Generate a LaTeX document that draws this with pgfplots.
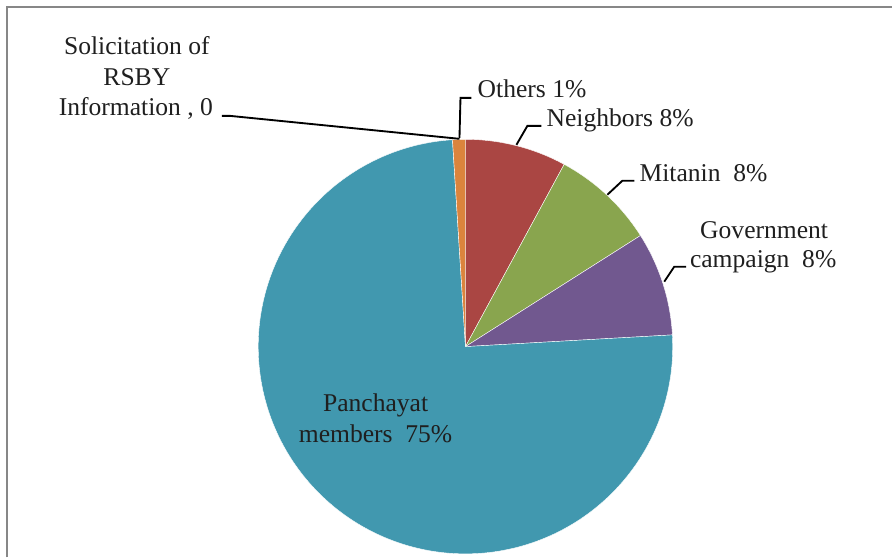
\documentclass[border=0pt]{standalone}
\usepackage{pgfplots}
\pgfplotsset{compat=1.18}
\usepackage{fontspec}
\setmainfont{Liberation Serif}
\definecolor{cTeal}{HTML}{4198AF}
\definecolor{cRed}{HTML}{AA4643}
\definecolor{cGreen}{HTML}{89A54E}
\definecolor{cPurple}{HTML}{71588F}
\definecolor{cOrange}{HTML}{DB843D}
\definecolor{cFrame}{HTML}{878787}
% shares in percent, clockwise from 12 o'clock
\def\vSolic{0}
\def\vNeigh{7.9}
\def\vMitan{8.1}
\def\vGov{8.1}
\def\vPanch{74.9}
\def\vOther{1.0}
\pgfmathsetmacro\aA{90-3.6*\vSolic}
\pgfmathsetmacro\aB{\aA-3.6*\vNeigh}
\pgfmathsetmacro\aC{\aB-3.6*\vMitan}
\pgfmathsetmacro\aD{\aC-3.6*\vGov}
\pgfmathsetmacro\aE{\aD-3.6*\vPanch}
\pgfmathsetmacro\aF{\aE-3.6*\vOther}
\begin{document}
\begin{tikzpicture}
\begin{axis}[
  width=669.75pt, height=418.5pt, scale only axis,
  xmin=0, xmax=893, ymin=0, ymax=558,
  hide axis, clip=false,
]
\path (axis cs:0,0) rectangle (axis cs:893,558);
\draw[cFrame, line width=1.5pt] (axis cs:7,0) -- (axis cs:7,550.5) -- (axis cs:893,550.5);
\pgfplotsset{slice/.style={draw=white, line width=0.3pt, fill=#1, variable=\t}}
\addplot[slice=cRed, domain=\aB:\aA, samples=30] ({466+207.5*cos(\t)},{211+207.5*sin(\t)}) -- (axis cs:466,211) -- cycle;
\addplot[slice=cGreen, domain=\aC:\aB, samples=30] ({466+207.5*cos(\t)},{211+207.5*sin(\t)}) -- (axis cs:466,211) -- cycle;
\addplot[slice=cPurple, domain=\aD:\aC, samples=30] ({466+207.5*cos(\t)},{211+207.5*sin(\t)}) -- (axis cs:466,211) -- cycle;
\addplot[slice=cTeal, domain=\aE:\aD, samples=200] ({466+207.5*cos(\t)},{211+207.5*sin(\t)}) -- (axis cs:466,211) -- cycle;
\addplot[slice=cOrange, domain=\aF:\aE, samples=6] ({466+207.5*cos(\t)},{211+207.5*sin(\t)}) -- (axis cs:466,211) -- cycle;
% leader lines
\draw[black, line width=1.4pt] (axis cs:222,442) -- (axis cs:230,442) -- (axis cs:460,419);
\draw[black, line width=1.4pt] (axis cs:472,460) -- (axis cs:461,460) -- (axis cs:460,420);
\draw[black, line width=1.4pt] (axis cs:542,432) -- (axis cs:528,432) -- (axis cs:517,413);
\draw[black, line width=1.4pt] (axis cs:635,377) -- (axis cs:623,377) -- (axis cs:608,363);
\draw[black, line width=1.4pt] (axis cs:687,291) -- (axis cs:675,291) -- (axis cs:665,276);
% labels
\tikzset{lbl/.style={inner sep=0pt, text=black!88, font=\fontsize{19.2}{22.9}\selectfont}}
\node[lbl, anchor=base] at (axis cs:137,503) {Solicitation of};
\node[lbl, anchor=base] at (axis cs:137,472.5) {RSBY};
\node[lbl, anchor=base] at (axis cs:136,442) {Information , 0};
\node[lbl, anchor=base west] at (axis cs:478,460) {Others 1\%};
\node[lbl, anchor=base west] at (axis cs:547,431) {Neighbors 8\%};
\node[lbl, anchor=base west] at (axis cs:640,376) {Mitanin\ \ 8\%};
\node[lbl, anchor=base] at (axis cs:765,319) {Government};
\node[lbl, anchor=base] at (axis cs:764,290) {campaign\ \ 8\%};
\node[lbl, anchor=base] at (axis cs:376,146) {Panchayat};
\node[lbl, anchor=base] at (axis cs:376,115) {members\ \ 75\%};
\end{axis}
\end{tikzpicture}
\end{document}
